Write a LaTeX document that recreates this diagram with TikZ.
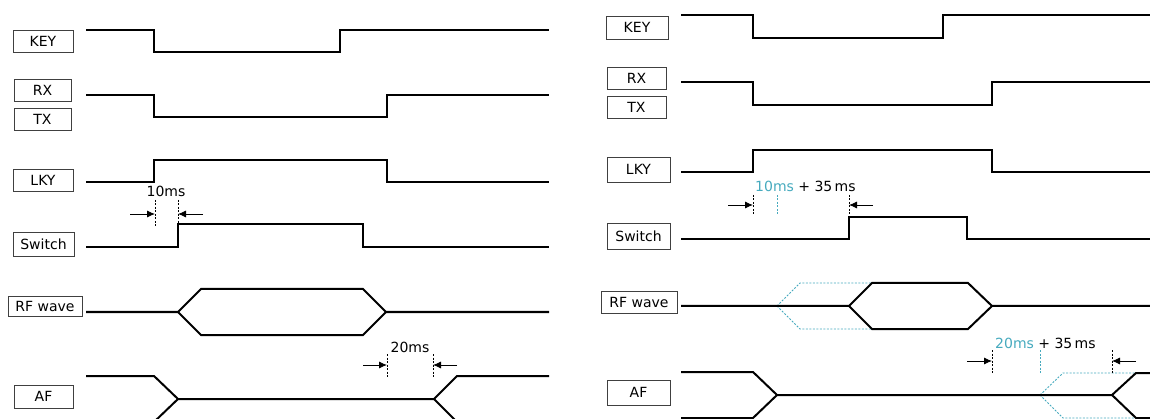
\documentclass[tikz,border=0pt]{standalone}
\usepackage{fontspec}
\setmainfont{DejaVu Sans}
\usetikzlibrary{arrows.meta}
\definecolor{ghost}{RGB}{70,170,190}
\tikzset{
  lbl/.style={draw=black!75, line width=0.8pt, inner sep=0pt, font=\fontsize{14}{16}\selectfont},
  sig/.style={line width=2pt, line join=miter},
  gsig/.style={ghost, line width=0.9pt, dash pattern=on 2pt off 1.5pt},
  mark line/.style={line width=0.8pt, dash pattern=on 2pt off 1.5pt},
  dim/.style={line width=0.8pt, -{Latex[length=8pt,width=7pt]}},
  ms/.style={font=\fontsize{14}{16}\selectfont, inner sep=0pt}
}
\begin{document}
\begin{tikzpicture}[x=1pt,y=-1pt]
\useasboundingbox (0,0) rectangle (1150,419);
\clip (0,0) rectangle (1150,419);

% left: labels
\node[lbl, minimum width=60pt, minimum height=22pt] (lkey) at (43,41.5) {KEY};
\node[lbl, minimum width=57pt, minimum height=22pt] (lrx) at (42.5,90) {RX};
\node[lbl, minimum width=57pt, minimum height=22pt] (ltx) at (42.5,119) {TX};
\node[lbl, minimum width=60pt, minimum height=22pt] (llky) at (43,180) {LKY};
\node[lbl, minimum width=61pt, minimum height=24pt] (lsw) at (43.5,244.5) {Switch};
\node[lbl, minimum width=74pt, minimum height=20pt] (lrf) at (45,306.5) {RF wave};
\node[lbl, minimum width=59pt, minimum height=23pt] (laf) at (43.5,396.5) {AF};

% left: waveforms
\draw[sig] (86,30) -- (154,30) -- (154,52) -- (340,52) -- (340,30) -- (549,30);
\draw[sig] (86,95) -- (154,95) -- (154,117) -- (387,117) -- (387,95) -- (549,95);
\draw[sig] (86,182) -- (154,182) -- (154,160) -- (387,160) -- (387,182) -- (549,182);
\draw[sig] (86,247) -- (178,247) -- (178,224) -- (363,224) -- (363,247) -- (549,247);
\draw[sig] (86,312) -- (178,312) -- (201,289) -- (363,289) -- (386,312) -- (549,312);
\draw[sig] (178,312) -- (201,335) -- (363,335) -- (386,312);
\draw[sig] (86,376) -- (154,376) -- (178,399) -- (434,399) -- (457,376) -- (549,376);
\draw[sig] (130,422) -- (154,422) -- (178,399);
\draw[sig] (434,399) -- (457,422) -- (549,422);

% left: 10ms
\node[ms] (lten) at (166,191) {10ms};
\coordinate (lta) at (155,214);
\coordinate (ltb) at (178,214);
\draw[mark line] (155,200) -- (155,226);
\draw[mark line] (178,200) -- (178,224);
\draw[dim] (130,214) -- (lta);
\draw[dim] (203,214) -- (ltb);

% left: 20ms
\node[ms] (ltw) at (410,347) {20ms};
\coordinate (lwa) at (387,365);
\coordinate (lwb) at (433,365);
\draw[mark line] (387,354) -- (387,377);
\draw[mark line] (433,354) -- (433,377);
\draw[dim] (363,365) -- (lwa);
\draw[dim] (457,365) -- (lwb);

% right: labels
\node[lbl, minimum width=62pt, minimum height=23pt] (rkey) at (637,27.5) {KEY};
\node[lbl, minimum width=59pt, minimum height=22pt] (rrx) at (636.5,78) {RX};
\node[lbl, minimum width=59pt, minimum height=22pt] (rtx) at (636.5,107.5) {TX};
\node[lbl, minimum width=63pt, minimum height=25pt] (rlky) at (638.5,169.5) {LKY};
\node[lbl, minimum width=63pt, minimum height=26pt] (rsw) at (638.5,236) {Switch};
\node[lbl, minimum width=76pt, minimum height=22pt] (rrf) at (639,302) {RF wave};
\node[lbl, minimum width=63pt, minimum height=25pt] (raf) at (638.5,392.5) {AF};

% right: ghost edges (10ms / 20ms only)
\draw[gsig] (777,306) -- (800,283) -- (872,283);
\draw[gsig] (777,306) -- (800,329) -- (872,329);
\draw[gsig] (1040,395) -- (1063,373) -- (1136,373);
\draw[gsig] (1040,395) -- (1063,418) -- (1136,418);

% right: waveforms
\draw[sig] (681,15) -- (753,15) -- (753,38) -- (943,38) -- (943,15) -- (1150,15);
\draw[sig] (681,82) -- (753,82) -- (753,105) -- (992,105) -- (992,82) -- (1150,82);
\draw[sig] (681,172) -- (753,172) -- (753,150) -- (992,150) -- (992,172) -- (1150,172);
\draw[sig] (681,239) -- (849,239) -- (849,217) -- (967,217) -- (967,239) -- (1150,239);
\draw[sig] (681,306) -- (849,306) -- (872,283) -- (968,283) -- (992,306) -- (1150,306);
\draw[sig] (849,306) -- (872,329) -- (968,329) -- (992,306);
\draw[sig] (681,372) -- (753,372) -- (777,395) -- (1112,395) -- (1136,373) -- (1150,373);
\draw[sig] (681,418) -- (753,418) -- (777,395);
\draw[sig] (1112,395) -- (1136,418) -- (1150,418);

% right: 10ms + 35ms
\node[ms, anchor=west] (rten) at (755,186) {\textcolor{ghost}{10ms} + 35\,ms};
\coordinate (rta) at (753,205);
\coordinate (rtb) at (849,205);
\draw[mark line] (753,195) -- (753,216);
\draw[mark line, ghost] (777,195) -- (777,216);
\draw[mark line] (849,195) -- (849,216);
\draw[dim] (728,205) -- (rta);
\draw[dim] (873,205) -- (rtb);

% right: 20ms + 35ms
\node[ms, anchor=west] (rtw) at (995,343) {\textcolor{ghost}{20ms} + 35\,ms};
\coordinate (rwa) at (992,361);
\coordinate (rwb) at (1112,361);
\draw[mark line] (992,350) -- (992,373);
\draw[mark line, ghost] (1040,350) -- (1040,373);
\draw[mark line] (1112,350) -- (1112,373);
\draw[dim] (967,361) -- (rwa);
\draw[dim] (1136,361) -- (rwb);

\end{tikzpicture}
\end{document}
